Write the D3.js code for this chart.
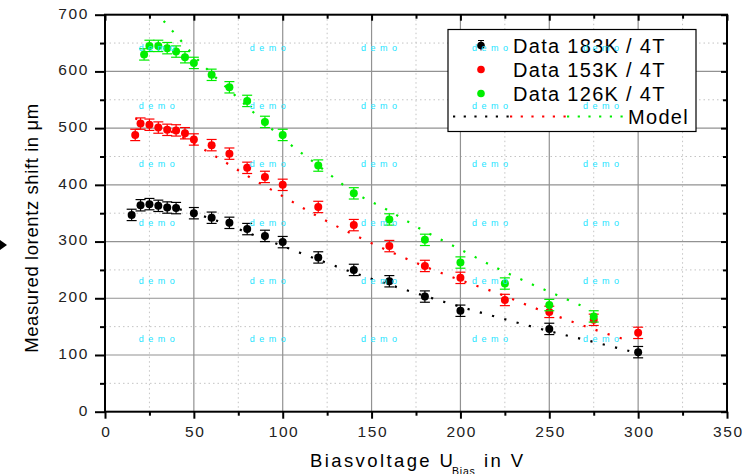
<!DOCTYPE html>
<html>
<head>
<meta charset="utf-8">
<style>
  body { margin: 0; background: #fff; }
  svg text { font-family: "Liberation Sans", Arial, sans-serif; }
</style>
</head>
<body>
<svg id="chart" width="747" height="474"></svg>
<script src="https://d3js.org/d3.v7.min.js"></script>
<script>
// measured points (volts, micrometres)
var voltBlack  = [15, 20, 25, 30, 35, 40, 50, 60, 70, 80, 90, 100, 120, 140, 160, 180, 200, 250, 300];
var shiftBlack = [347, 364, 366, 363, 360, 359, 350, 342, 333, 322, 310, 299, 272, 250, 230, 203, 178, 146, 105];

var voltRed  = [17, 20, 25, 30, 35, 40, 45, 50, 60, 70, 80, 90, 100, 120, 140, 160, 180, 200, 225, 250, 275, 300];
var shiftRed = [488, 508, 506, 501, 497, 496, 491, 480, 470, 455, 430, 414, 400, 361, 329, 292, 257, 236, 197, 176, 162, 139];

var voltGreen  = [22, 25, 30, 35, 40, 45, 50, 60, 70, 80, 90, 100, 120, 140, 160, 180, 200, 225, 250, 275];
var shiftGreen = [630, 645, 645, 641, 635, 625, 615, 594, 572, 548, 511, 488, 434, 385, 339, 303, 263, 226, 188, 168];

var errBar = 10;

// model curves
var modelVoltBlack  = [42, 60, 80, 100, 120, 140, 160, 180, 200, 225, 250, 275, 295];
var modelShiftBlack = [357, 340, 316, 292, 268, 245, 224, 204, 185, 163, 142, 123, 107];

var modelVoltRed  = [17, 35, 52, 65, 80, 100, 120, 140, 160, 180, 200, 220, 240, 260, 280, 295];
var modelShiftRed = [517, 497, 469, 445, 416, 380, 344, 312, 283, 256, 232, 210, 185, 162, 140, 125];

var modelVoltGreen  = [33, 40, 50, 60, 70, 80, 100, 120, 140, 160, 180, 200, 220, 240, 260, 273];
var modelShiftGreen = [689, 664, 628, 596, 567, 538, 482, 434, 387, 354, 318, 286, 254, 225, 198, 180];

var legendLabels = ["Data 183K / 4T", "Data 153K / 4T", "Data 126K / 4T", "Model"];
var colors = ["#000000", "#ff0000", "#00ee00"];

var xTicks = [0, 50, 100, 150, 200, 250, 300, 350];
var yTicks = [0, 100, 200, 300, 400, 500, 600, 700];

var svg = d3.select("#chart");
var x = d3.scaleLinear().domain([0, 350]).range([105, 727]);
var y = d3.scaleLinear().domain([0, 700]).range([411.7, 14.7]);

// grid
var minorX = d3.range(25, 350, 50), minorY = d3.range(50, 700, 100);
svg.append("g").selectAll("line").data(minorX).join("line")
  .attr("x1", d => x(d)).attr("x2", d => x(d)).attr("y1", y(700)).attr("y2", y(0))
  .attr("stroke", "#c4c4c4").attr("stroke-dasharray", "1.5,3");
svg.append("g").selectAll("line").data(minorY).join("line")
  .attr("y1", d => y(d)).attr("y2", d => y(d)).attr("x1", x(0)).attr("x2", x(350))
  .attr("stroke", "#c4c4c4").attr("stroke-dasharray", "1.5,3");
svg.append("g").selectAll("line").data(xTicks.slice(1, -1)).join("line")
  .attr("x1", d => x(d)).attr("x2", d => x(d)).attr("y1", y(700)).attr("y2", y(0))
  .attr("stroke", "#929292").attr("stroke-width", 1.2);
svg.append("g").selectAll("line").data(yTicks.slice(1, -1)).join("line")
  .attr("y1", d => y(d)).attr("y2", d => y(d)).attr("x1", x(0)).attr("x2", x(350))
  .attr("stroke", "#929292").attr("stroke-width", 1.2);

// axes
function styleAxis(g) {
  g.select(".domain").remove();
  g.selectAll("line").attr("stroke", "#000").attr("stroke-width", 2);
  g.selectAll("text").attr("fill", "#222").style("font-size", "15.5px").style("letter-spacing", "1.6px");
}
svg.append("g").attr("transform", "translate(0," + y(0) + ")")
  .call(d3.axisBottom(x).tickValues(xTicks).tickSize(7)).call(styleAxis)
  .selectAll("text").attr("y", 25.5).attr("dy", null).attr("dx", "0.8px");
svg.append("g").attr("transform", "translate(0," + y(0) + ")")
  .call(d3.axisBottom(x).tickValues(minorX).tickSize(4).tickFormat("")).call(styleAxis);
svg.append("g").attr("transform", "translate(" + x(0) + ",0)")
  .call(d3.axisLeft(y).tickValues(yTicks).tickSize(10).tickPadding(6)).call(styleAxis)
  .selectAll("text").attr("dy", "0.22em");
svg.append("g").attr("transform", "translate(" + x(0) + ",0)")
  .call(d3.axisLeft(y).tickValues(minorY).tickSize(5).tickFormat("")).call(styleAxis);
svg.append("g").attr("transform", "translate(0," + y(700) + ")")
  .call(d3.axisBottom(x).tickValues(xTicks).tickSize(6).tickFormat("")).call(styleAxis);
svg.append("g").attr("transform", "translate(0," + y(700) + ")")
  .call(d3.axisBottom(x).tickValues(minorX).tickSize(4).tickFormat("")).call(styleAxis);
svg.append("g").attr("transform", "translate(" + x(350) + ",0)")
  .call(d3.axisLeft(y).tickValues(yTicks).tickSize(6).tickFormat("")).call(styleAxis);
svg.append("g").attr("transform", "translate(" + x(350) + ",0)")
  .call(d3.axisLeft(y).tickValues(minorY).tickSize(4).tickFormat("")).call(styleAxis);

svg.append("rect").attr("x", x(0)).attr("y", y(700))
  .attr("width", x(350) - x(0)).attr("height", y(0) - y(700))
  .attr("fill", "none").attr("stroke", "#000").attr("stroke-width", 2);

// model lines
var modelLine = d3.line().x(d => x(d[0])).y(d => y(d[1])).curve(d3.curveMonotoneX);
var models = [
  d3.zip(modelVoltBlack, modelShiftBlack),
  d3.zip(modelVoltRed, modelShiftRed),
  d3.zip(modelVoltGreen, modelShiftGreen)
];
models.forEach(function(m, i) {
  svg.append("path").attr("d", modelLine(m)).attr("fill", "none")
    .attr("stroke", colors[i]).attr("stroke-width", 2.2).attr("stroke-dasharray", "2.2,10.5");
});

// data points with error bars
var series = [
  d3.zip(voltBlack, shiftBlack),
  d3.zip(voltRed, shiftRed),
  d3.zip(voltGreen, shiftGreen)
];
series.forEach(function(s, i) {
  var g = svg.append("g").attr("stroke", colors[i]).attr("fill", colors[i]);
  var pts = g.selectAll("g").data(s).join("g");
  pts.append("line").attr("x1", d => x(d[0])).attr("x2", d => x(d[0]))
    .attr("y1", d => y(d[1] - errBar)).attr("y2", d => y(d[1] + errBar)).attr("stroke-width", 1.2);
  pts.append("line").attr("x1", d => x(d[0]) - 5).attr("x2", d => x(d[0]) + 5)
    .attr("y1", d => y(d[1] - errBar)).attr("y2", d => y(d[1] - errBar)).attr("stroke-width", 1.2);
  pts.append("line").attr("x1", d => x(d[0]) - 5).attr("x2", d => x(d[0]) + 5)
    .attr("y1", d => y(d[1] + errBar)).attr("y2", d => y(d[1] + errBar)).attr("stroke-width", 1.2);
  pts.append("circle").attr("cx", d => x(d[0])).attr("cy", d => y(d[1])).attr("r", 4).attr("stroke", "none");
});

// legend
var lg = svg.append("g");
lg.append("rect").attr("x", 448).attr("y", 29.5).attr("width", 248).attr("height", 102)
  .attr("fill", "#fff").attr("stroke", "#000").attr("stroke-width", 1.2);
var rowY = [45.5, 69.5, 93.5, 116.5];
legendLabels.forEach(function(t, i) {
  lg.append("text").attr("x", i < 3 ? 513 : 628).attr("y", rowY[i] + 7)
    .style("font-size", "20px").style("letter-spacing", "1.3px").attr("fill", "#000").text(t);
  if (i < 3) {
    lg.append("circle").attr("cx", 481).attr("cy", rowY[i]).attr("r", 3.8).attr("fill", colors[i]);
  }
});
lg.append("line").attr("x1", 481).attr("x2", 481).attr("y1", rowY[0] - 5).attr("y2", rowY[0] + 5).attr("stroke", "#000");
lg.append("line").attr("x1", 478).attr("x2", 484).attr("y1", rowY[0] - 5).attr("y2", rowY[0] - 5).attr("stroke", "#000");
[[453, 510], [510, 567], [567, 624]].forEach(function(seg, i) {
  lg.append("line").attr("x1", seg[0]).attr("x2", seg[1]).attr("y1", rowY[3]).attr("y2", rowY[3])
    .attr("stroke", colors[i]).attr("stroke-width", 2.2).attr("stroke-dasharray", "2.2,8.5");
});

// axis titles
svg.append("text").attr("x", 310).attr("y", 466.5).attr("fill", "#000")
  .style("font-size", "18.5px").style("letter-spacing", "2.4px").text("Biasvoltage U");
svg.append("text").attr("x", 452).attr("y", 474.5).attr("fill", "#000")
  .style("font-size", "10.5px").style("letter-spacing", "0.8px").text("Bias");
svg.append("text").attr("x", 484).attr("y", 466.5).attr("fill", "#000")
  .style("font-size", "18.5px").style("letter-spacing", "2.4px").text("in V");

svg.append("text").attr("transform", "translate(38,228) rotate(-90)")
  .attr("text-anchor", "middle").attr("fill", "#000")
  .style("font-size", "18.5px").style("letter-spacing", "0.6px")
  .text("Measured lorentz shift in \u03bcm");

svg.append("path").attr("d", "M0,240 L7,245 L0,250 Z").attr("fill", "#000");

// watermark
var wm = svg.append("g").attr("fill", "#22e4ff").style("font-size", "9px").style("letter-spacing", "4.5px");
d3.range(5).forEach(function(c) {
  d3.range(6).forEach(function(r) {
    wm.append("text").attr("x", x(19 + 62.5 * c)).attr("y", y(641 - 102.5 * r) + 3).text("demo");
  });
});
</script>
</body>
</html>
